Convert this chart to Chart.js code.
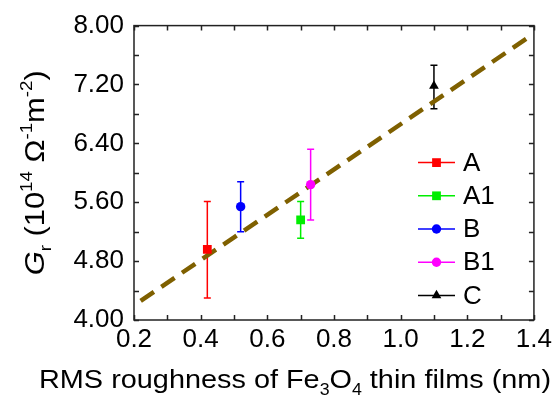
<!DOCTYPE html>
<html>
<head>
<meta charset="utf-8">
<script src="https://cdn.jsdelivr.net/npm/chart.js@4.4.1/dist/chart.umd.min.js"></script>
<style>
  body { margin: 0; background: #fff; }
</style>
</head>
<body>
<canvas id="roughChart" width="556" height="397"></canvas>
<script>
// values
const seriesNames = ["A", "A1", "B", "B1", "C"];
const roughness = [0.42, 0.70, 0.52, 0.73, 1.10];
const conductance = [4.96, 5.36, 5.54, 5.84, 7.18];
const errLow = [4.30, 5.11, 5.20, 5.36, 6.87];
const errHigh = [5.61, 5.61, 5.88, 6.32, 7.46];
const fitX = [0.22, 1.39];
const fitY = [4.26, 7.86];
const xTicks = [0.2, 0.4, 0.6, 0.8, 1.0, 1.2, 1.4];
const yTicks = [4.0, 4.8, 5.6, 6.4, 7.2, 8.0];

const seriesColors = ["#ff0000", "#00ee00", "#0000ff", "#ff00ff", "#000000"];
const markerStyles = ["rect", "rect", "circle", "circle", "triangle"];
const markerSizes = [6.2, 6.2, 4.7, 4.7, 5.6];
const FONT = "'Liberation Sans', Arial, sans-serif";

Chart.defaults.font.family = FONT;
Chart.defaults.color = "#000";

// draw a run of text pieces (sub/superscripts), stretched to a given width
function drawRich(ctx, parts, cx, baseY, targetWidth) {
  let total = 0;
  parts.forEach(p => {
    ctx.font = (p.italic ? "italic " : "") + p.size + "px " + FONT;
    p.w = ctx.measureText(p.t).width;
    total += p.w;
  });
  const k = targetWidth / total;
  ctx.save();
  ctx.translate(cx - targetWidth / 2, baseY);
  ctx.scale(k, 1);
  ctx.textAlign = "left";
  ctx.textBaseline = "alphabetic";
  ctx.fillStyle = "#000";
  let x = 0;
  parts.forEach(p => {
    ctx.font = (p.italic ? "italic " : "") + p.size + "px " + FONT;
    ctx.fillText(p.t, x, p.dy || 0);
    x += p.w;
  });
  ctx.restore();
}

const errorBars = {
  id: "errorBars",
  beforeDatasetsDraw(chart) {
    const { ctx, scales: { x, y } } = chart;
    ctx.save();
    ctx.lineWidth = 1.5;
    roughness.forEach((r, i) => {
      const px = x.getPixelForValue(r);
      const top = y.getPixelForValue(errHigh[i]);
      const bot = y.getPixelForValue(errLow[i]);
      ctx.strokeStyle = seriesColors[i];
      ctx.beginPath();
      ctx.moveTo(px, top); ctx.lineTo(px, bot);
      ctx.moveTo(px - 3.5, top); ctx.lineTo(px + 3.5, top);
      ctx.moveTo(px - 3.5, bot); ctx.lineTo(px + 3.5, bot);
      ctx.stroke();
    });
    ctx.restore();
  }
};

const frameAndTicks = {
  id: "frameAndTicks",
  afterDatasetsDraw(chart) {
    const { ctx, chartArea: a, scales: { x, y } } = chart;
    ctx.save();
    ctx.strokeStyle = "#222";
    ctx.lineWidth = 1.5;
    ctx.strokeRect(a.left, a.top, a.right - a.left, a.bottom - a.top);
    ctx.beginPath();
    for (let v = 0.2; v <= 1.4001; v += 0.1) {
      const px = Math.round(x.getPixelForValue(v)) + 0.5;
      ctx.moveTo(px, a.bottom); ctx.lineTo(px, a.bottom - 5);
      ctx.moveTo(px, a.top); ctx.lineTo(px, a.top + 5);
    }
    for (let v = 4.0; v <= 8.0001; v += 0.4) {
      const py = Math.round(y.getPixelForValue(v)) + 0.5;
      ctx.moveTo(a.left, py); ctx.lineTo(a.left + 5, py);
      ctx.moveTo(a.right, py); ctx.lineTo(a.right - 5, py);
    }
    ctx.stroke();
    ctx.restore();
  }
};

const legendAndTitles = {
  id: "legendAndTitles",
  afterDraw(chart) {
    const { ctx, chartArea: a } = chart;
    // legend
    ctx.save();
    const lx = a.left + 284, ly = a.top + 137, row = 33.2;
    seriesNames.forEach((name, i) => {
      const yy = ly + i * row;
      ctx.strokeStyle = seriesColors[i];
      ctx.fillStyle = seriesColors[i];
      ctx.lineWidth = 1.5;
      ctx.beginPath();
      ctx.moveTo(lx, yy); ctx.lineTo(lx + 37, yy);
      ctx.stroke();
      Chart.helpers.drawPoint(ctx, { pointStyle: markerStyles[i], radius: markerSizes[i], rotation: 0, borderWidth: 0 }, lx + 18.5, yy);
      ctx.fillStyle = "#000";
      ctx.font = "26px " + FONT;
      ctx.textAlign = "left";
      ctx.textBaseline = "middle";
      ctx.fillText(name, lx + 45, yy + 1);
    });
    ctx.restore();

    // x axis title
    drawRich(ctx, [
      { t: "RMS roughness of Fe", size: 26 },
      { t: "3", size: 16, dy: 7 },
      { t: "O", size: 26 },
      { t: "4", size: 16, dy: 7 },
      { t: " thin films (nm)", size: 26 }
    ], 295, 388, 512);

    // y axis title
    ctx.save();
    ctx.translate(44, (a.top + a.bottom) / 2);
    ctx.rotate(-Math.PI / 2);
    drawRich(ctx, [
      { t: "G", size: 28, italic: true },
      { t: "r", size: 17, dy: 7 },
      { t: " (10", size: 28 },
      { t: "14", size: 17, dy: -12 },
      { t: " \u03A9", size: 28 },
      { t: "-1", size: 17, dy: -12 },
      { t: "m", size: 28 },
      { t: "-2", size: 17, dy: -12 },
      { t: ")", size: 28 }
    ], 0, 0, 205);
    ctx.restore();
  }
};

const datasets = seriesNames.map((name, i) => ({
  label: name,
  data: [{ x: roughness[i], y: conductance[i] }],
  pointStyle: markerStyles[i],
  pointRadius: markerSizes[i],
  backgroundColor: seriesColors[i],
  borderColor: seriesColors[i],
  borderWidth: 0,
  showLine: false,
  order: 0
}));

datasets.push({
  label: "fit",
  data: fitX.map((v, i) => ({ x: v, y: fitY[i] })),
  showLine: true,
  borderColor: "#7f6000",
  borderWidth: 4.5,
  borderDash: [16, 9],
  pointRadius: 0,
  order: 10
});

new Chart(document.getElementById("roughChart"), {
  type: "scatter",
  data: { datasets },
  options: {
    responsive: false,
    animation: false,
    layout: { padding: { top: 24, right: 22, left: 0, bottom: 0 } },
    plugins: { legend: { display: false }, tooltip: { enabled: false } },
    scales: {
      x: {
        type: "linear",
        min: 0.2,
        max: 1.4,
        afterBuildTicks: s => { s.ticks = xTicks.map(v => ({ value: v })); },
        afterFit: s => { s.height = 77; },
        ticks: { callback: v => v.toFixed(1), font: { size: 26 }, padding: 4, maxRotation: 0 },
        grid: { display: false, drawTicks: false },
        border: { display: false }
      },
      y: {
        min: 4,
        max: 8,
        afterBuildTicks: s => { s.ticks = yTicks.map(v => ({ value: v })); },
        afterFit: s => { s.width = 134; },
        ticks: { callback: v => v.toFixed(2), font: { size: 26 }, padding: 10 },
        grid: { display: false, drawTicks: false },
        border: { display: false }
      }
    }
  },
  plugins: [errorBars, frameAndTicks, legendAndTitles]
});
</script>
</body>
</html>
